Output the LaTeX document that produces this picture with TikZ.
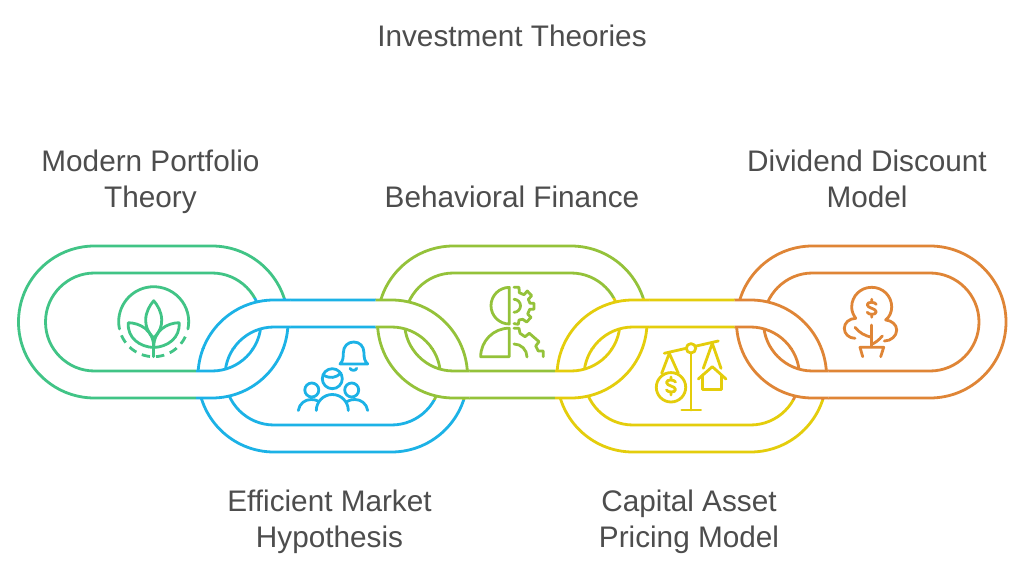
\documentclass[tikz,border=0pt]{standalone}
\usepackage{fontspec}
\setmainfont{Liberation Sans}
\definecolor{LinkGreen}{HTML}{41C486}
\definecolor{LinkBlue}{HTML}{1CB2E6}
\definecolor{LinkLime}{HTML}{94C23A}
\definecolor{LinkYellow}{HTML}{E4CD0C}
\definecolor{LinkOrange}{HTML}{DF8536}
\definecolor{LabelGray}{HTML}{4D4D4D}
\tikzset{%
	% Style of the title and of the link labels
	LabelName/.style={font=\fontsize{22.3}{27}\selectfont,text=LabelGray,align=center,inner sep=0},
	% Style of the chain links
	LinkLine/.style={line width=2.1pt,line join=round},
	% Style of the icon strokes
	IconLine/.style={line width=2.1pt,line join=round,line cap=round},
}
% Outline of one link: left centre x, centre y, radius
\newcommand{\LinkOutline}[3]{(#1,#2-#3) -- ++(117.5,0) arc[start angle=-90,end angle=90,radius=#3] -- ++(-117.5,0) arc[start angle=90,end angle=270,radius=#3] -- cycle}
\newcommand{\DrawLink}[3]{\draw[LinkLine,draw=#3] \LinkOutline{#1}{#2}{76} \LinkOutline{#1}{#2}{49};}
\newcommand{\CutBand}[2]{\fill[white,even odd rule] \LinkOutline{#1}{#2}{76} \LinkOutline{#1}{#2}{49};}
% Crossing of two links: upper x, lower x, left, right, colour
\newcommand{\LinkJoin}[5]{%
	\begin{scope}
		\clip (#3,298.2) rectangle (#4,349);
		\fill[white] (#3,298.2) rectangle (#4,349);
		\DrawLink{#1}{322}{#5}
		\CutBand{#2}{376}
		\DrawLink{#2}{376}{#5}
	\end{scope}
	\begin{scope}
		\clip (#3,349) rectangle (#4,399.8);
		\fill[white] (#3,349) rectangle (#4,399.8);
		\DrawLink{#2}{376}{#5}
		\CutBand{#1}{322}
		\DrawLink{#1}{322}{#5}
	\end{scope}
}
% Dollar sign around the origin
\newcommand{\DollarSign}{(4.5,-4) .. controls (3.5,-6.5) and (-4.5,-7) .. (-4.5,-3.5) .. controls (-4.5,0) and (4.5,0) .. (4.5,3.5) .. controls (4.5,7) and (-3.5,6.5) .. (-4.5,4) (0,-9) -- (0,-6.3) (0,6.3) -- (0,9)}

\begin{document}
\begin{tikzpicture}[x=0.75pt,y=-0.75pt]

\fill[white] (0,0) rectangle (1024,573);
\useasboundingbox (0,0) rectangle (1024,573);

%~~~~~~~~~~~~~~~~~~~~~~~~~~~~~~~~~~~~~~~~~~~~~~~~~~
% Set Labels
%~~~~~~~~~~~~~~~~~~~~~~~~~~~~~~~~~~~~~~~~~~~~~~~~~~
\node[LabelName] (Title) at (512,36) {Investment Theories};
\node[LabelName] (Modern) at (150.5,182) {Modern Portfolio\\Theory};
\node[LabelName] (Efficient) at (329.5,522) {Efficient Market\\Hypothesis};
\node[LabelName] (Behavioral) at (512,197) {Behavioral Finance};
\node[LabelName] (Capital) at (689,522) {Capital Asset\\Pricing Model};
\node[LabelName] (Dividend) at (867,179) {Dividend Discount\\Model};

%~~~~~~~~~~~~~~~~~~~~~~~~~~~~~~~~~~~~~~~~~~~~~~~~~~
% Set Links
%~~~~~~~~~~~~~~~~~~~~~~~~~~~~~~~~~~~~~~~~~~~~~~~~~~
\DrawLink{94.5}{322}{LinkGreen}
\DrawLink{274}{376}{LinkBlue}
\DrawLink{453.5}{322}{LinkLime}
\DrawLink{633}{376}{LinkYellow}
\DrawLink{812.5}{322}{LinkOrange}

%~~~~~~~~~~~~~~~~~~~~~~~~~~~~~~~~~~~~~~~~~~~~~~~~~~
% Set Crossings
%~~~~~~~~~~~~~~~~~~~~~~~~~~~~~~~~~~~~~~~~~~~~~~~~~~
\LinkJoin{94.5}{274}{196.2}{290}{LinkBlue}
\LinkJoin{453.5}{274}{375.7}{469.3}{LinkLime}
\LinkJoin{453.5}{633}{555.2}{649}{LinkYellow}
\LinkJoin{812.5}{633}{734.7}{828.3}{LinkOrange}

%~~~~~~~~~~~~~~~~~~~~~~~~~~~~~~~~~~~~~~~~~~~~~~~~~~
% Set Icons
%~~~~~~~~~~~~~~~~~~~~~~~~~~~~~~~~~~~~~~~~~~~~~~~~~~
%Leaves in a circle
\draw[IconLine,LinkGreen] (153.7,321.7) ++(168:35) arc[start angle=168,end angle=372,radius=35];
\draw[IconLine,LinkGreen,line cap=butt,dash pattern=on 6.3pt off 4.5pt] (153.7,321.7) ++(157:35) arc[start angle=157,end angle=23,radius=35];
\draw[IconLine,LinkGreen] (153.7,338) .. controls (147,331) and (145.7,326) .. (145.7,320) .. controls (145.7,312) and (150,305) .. (153.7,300.7) .. controls (157.4,305) and (161.7,312) .. (161.7,320) .. controls (161.7,326) and (160.4,331) .. (153.7,338);
\draw[IconLine,LinkGreen] (128.3,322.7) .. controls (140,323) and (153.7,330) .. (153.7,347.5) .. controls (140,347) and (127,338) .. (128.3,322.7);
\draw[IconLine,LinkGreen] (179.1,322.7) .. controls (167.4,323) and (153.7,330) .. (153.7,347.5) .. controls (167.4,347) and (180.4,338) .. (179.1,322.7);
\draw[IconLine,LinkGreen] (153.7,338) -- (153.7,356.7);

%People and a bell
\draw[IconLine,LinkBlue] (340,364) .. controls (343,361) and (343.3,358) .. (343.3,353) .. controls (343.3,346) and (348,342) .. (353.7,342) .. controls (359.5,342) and (364,346) .. (364,353) .. controls (364,358) and (364.5,361) .. (367.7,364) -- cycle;
\draw[IconLine,LinkBlue] (350,368.3) .. controls (351,371) and (356,371) .. (356.7,368.3);
\draw[IconLine,LinkBlue] (332.3,378.7) circle[radius=10];
\draw[IconLine,LinkBlue] (323.3,375) .. controls (330,379) and (336,378) .. (341,373);
\draw[IconLine,LinkBlue] (311.8,390) circle[radius=7];
\draw[IconLine,LinkBlue] (351.7,390) circle[radius=7];
\draw[IconLine,LinkBlue] (316.3,410.5) arc[start angle=180,end angle=360,radius=16];
\draw[IconLine,LinkBlue] (298.3,410.5) .. controls (299.5,403.5) and (305,399.5) .. (311,399.5) .. controls (314,399.5) and (316.5,400) .. (319,401.5);
\draw[IconLine,LinkBlue] (367.7,410.5) .. controls (366.5,403.5) and (361,399.5) .. (355,399.5) .. controls (352,399.5) and (349.5,400) .. (347,401.5);

%Head and gears
\draw[IconLine,LinkLime] (509.3,287.4) arc[start angle=270,end angle=90,radius=18.3] -- cycle;
\draw[IconLine,LinkLime] (509.3,328.3) -- (509.3,356.7) -- (480.7,356.7) arc[start angle=180,end angle=270,radius=28.5] -- cycle;
\draw[IconLine,LinkLime] (514,287.3) -- (519,287.3) -- (519.3,292.7) -- (524,294.7) -- (527.3,291) -- (531.7,295.7) -- (528.3,299.3) -- (530,303.3) -- (534,303.3) -- (534,309.3) -- (529.7,309.3) -- (527.7,314) -- (531,317.3) -- (526.7,322) -- (522.7,319.3) -- (519,320) -- (518.3,324.3) -- (514,323.6);
\draw[IconLine,LinkLime] (514,299.3) arc[start angle=-90,end angle=90,radius=6.5];
\draw[IconLine,LinkLime] (514,328.3) -- (519,328.3) -- (520,333.3) -- (525,336.7) -- (529.3,333.3) -- (539,341.7) -- (535.7,346) -- (538.3,351) -- (543.3,351) -- (543.3,356.7);
\draw[IconLine,LinkLime] (514,344) arc[start angle=-90,end angle=0,radius=13];

%Scale with coin and house
\draw[IconLine,LinkYellow] (664.3,353.3) -- (718.3,341);
\draw[IconLine,LinkYellow] (691,353) -- (691,410);
\draw[IconLine,LinkYellow] (681.7,410) -- (700.7,410);
\draw[IconLine,LinkYellow,fill=white] (691,348.3) circle[radius=4.7];
\draw[IconLine,LinkYellow] (661.7,373.3) -- (669.3,353.3) -- (678.3,373.3);
\draw[IconLine,LinkYellow] (671,387.3) circle[radius=14.7];
\draw[IconLine,LinkYellow,shift={(671,386)}] \DollarSign;
\draw[IconLine,LinkYellow] (703.3,368.3) -- (712.3,343.3) -- (721,368.3);
\draw[IconLine,LinkYellow] (698.3,379) -- (712.3,366.7) -- (726,379);
\draw[IconLine,LinkYellow] (702.7,375) -- (702.7,389.3) -- (721.7,389.3) -- (721.7,375);

%Money tree
\draw[IconLine,LinkOrange] (855.7,318.3) .. controls (853,314.5) and (851.7,311) .. (851.7,307) .. controls (851.7,296) and (860.5,287.3) .. (871.7,287.3) .. controls (882.9,287.3) and (891.7,296) .. (891.7,307) .. controls (891.7,312) and (889.5,317) .. (885.7,320);
\draw[IconLine,LinkOrange] (855.7,318.3) .. controls (849,318.5) and (844.3,323) .. (844.3,328.3) .. controls (844.3,334) and (849,338.3) .. (855,338.3);
\draw[IconLine,LinkOrange] (885.7,320) .. controls (891.5,320.5) and (896.7,324.5) .. (896.7,330) .. controls (896.7,336) and (891,341) .. (884.3,341);
\draw[IconLine,LinkOrange] (871.7,325) -- (871.7,346.7);
\draw[IconLine,LinkOrange] (855,327.3) .. controls (859,332.5) and (865,336) .. (871.7,337.3);
\draw[IconLine,LinkOrange] (882.3,336) .. controls (879,340) and (875,343) .. (871.7,344.3);
\draw[IconLine,LinkOrange] (862.7,356.7) -- (860,347.3) -- (883.7,347.3) -- (880.7,356.7);
\draw[IconLine,LinkOrange,shift={(871.7,308.3)}] \DollarSign;

\end{tikzpicture}
\end{document}
